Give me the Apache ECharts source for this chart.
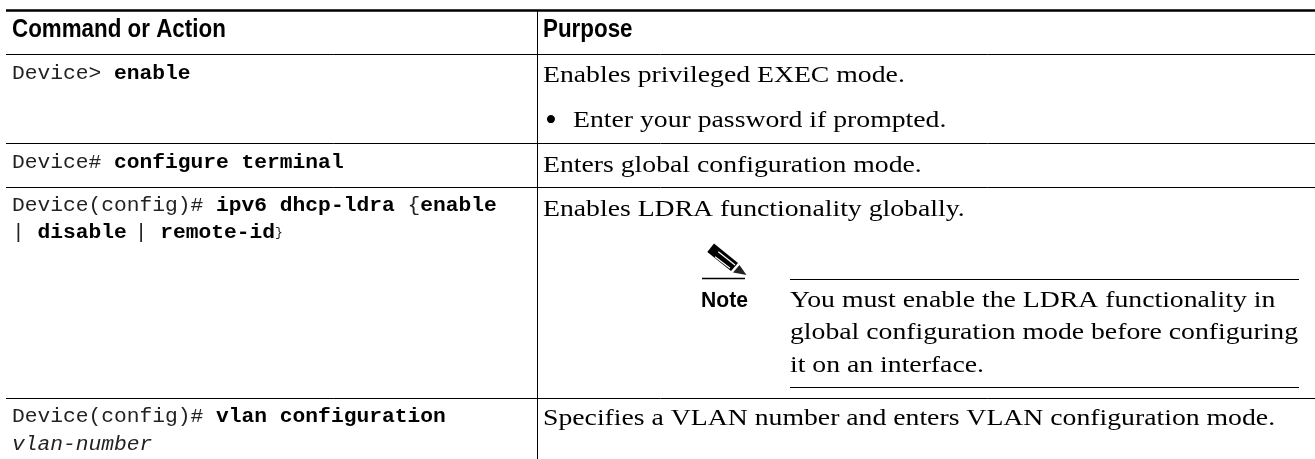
<!DOCTYPE html>
<html><head><meta charset="utf-8">
<style>html,body{margin:0;padding:0;background:#fff}#c{width:1315px;height:459px}</style>
<script src="https://cdn.jsdelivr.net/npm/echarts@6/dist/echarts.min.js"></script>
</head><body><div id="c"></div>
<script>
const headers = ["Command or Action", "Purpose"];
const commandLines = [
  "{r|Device> }{b|enable}",
  "{r|Device# }{b|configure terminal}",
  "{r|Device(config)# }{b|ipv6 dhcp-ldra }{r|{}{b|enable}",
  "{r|| }{b|disable}{s| }{r||}{r| }{b|remote-id}}",
  "{r|Device(config)# }{b|vlan configuration}",
  "{i|vlan-number}"
];
const purposeLines = [
  "Enables privileged EXEC mode.",
  "Enter your password if prompted.",
  "Enters global configuration mode.",
  "Enables LDRA functionality globally.",
  "Specifies a VLAN number and enters VLAN configuration mode."
];
const noteLabel = "Note";
const noteLines = [
  "You must enable the LDRA functionality in",
  "global configuration mode before configuring",
  "it on an interface."
];
const bullet = "•";

const chart = echarts.init(document.getElementById('c'), null, {renderer:'canvas'});
const g = [];
const MONO='"Liberation Mono"', SERIF='"Liberation Serif"', SANS='"Liberation Sans"';
function line(x1,y1,x2,y2,w){ g.push({type:'line',shape:{x1,y1,x2,y2},style:{stroke:'#000',lineWidth:w||1}}); }
function text(t,x,y,font,size,weight,sx){
  g.push({type:'text',x,y,scaleX:sx||1,style:{text:t,font:`${weight||'normal'} ${size}px ${font}`,fill:'#000',verticalAlign:'middle'}});
}
function cmd(t,y){
  const s=19.5;
  g.push({type:'text',x:12,y,scaleX:1.09,style:{text:t,verticalAlign:'middle',fontFamily:MONO,fontSize:12,fill:'#222',rich:{
    r:{fontFamily:MONO,fontSize:s,fill:'#222'},
    s:{fontFamily:MONO,fontSize:12,fill:'#222'},
    b:{fontFamily:MONO,fontSize:s,fontWeight:'bold',fill:'#000'},
    i:{fontFamily:MONO,fontSize:s,fontStyle:'italic',fill:'#222'}
  }}});
}
line(6,10.5,1315,10.5,2.5);
line(6,54.5,1315,54.5);
line(6,143.5,1315,143.5);
line(6,187.5,1315,187.5);
line(6,398.5,1315,398.5);
line(537.5,10,537.5,459);
line(790,279.5,1299,279.5);
line(790,387.5,1299,387.5);
line(702,278.5,745,278.5,1.5);

text(headers[0],12,30,SANS,25,'bold',0.895);
text(headers[1],543,30,SANS,25,'bold',0.895);
cmd(commandLines[0],74);
cmd(commandLines[1],163);
cmd(commandLines[2],206);
cmd(commandLines[3],233);
cmd(commandLines[4],417);
cmd(commandLines[5],445);
const SX=1.155, FS=24;
text(purposeLines[0],543,76,SERIF,FS,'normal',SX);
text(bullet,545,122,SERIF,34,'normal',1);
text(purposeLines[1],573,121,SERIF,FS,'normal',SX);
text(purposeLines[2],543,166,SERIF,FS,'normal',SX);
text(purposeLines[3],543,210,SERIF,FS,'normal',SX);
text(purposeLines[4],543,419,SERIF,FS,'normal',SX);
text(noteLines[0],790,301,SERIF,FS,'normal',SX);
text(noteLines[1],790,333,SERIF,FS,'normal',SX);
text(noteLines[2],790,366,SERIF,FS,'normal',SX);
text(noteLabel,701,301,SANS,22,'bold',0.96);
// pencil icon
g.push({type:'polygon',shape:{points:[[707.3,252],[714,243.5],[738,263],[731,271]]},style:{fill:'#000'}});
g.push({type:'line',shape:{x1:718.3,y1:251.7,x2:735,y2:265},style:{stroke:'#fff',lineWidth:1.2}});
g.push({type:'line',shape:{x1:715,y1:256.7,x2:730,y2:268.3},style:{stroke:'#fff',lineWidth:1.2}});
g.push({type:'polygon',shape:{points:[[739.5,265],[746.5,275],[733,272.5]]},style:{fill:'#222'}});
chart.setOption({animation:false,graphic:{elements:g}});
</script></body></html>
